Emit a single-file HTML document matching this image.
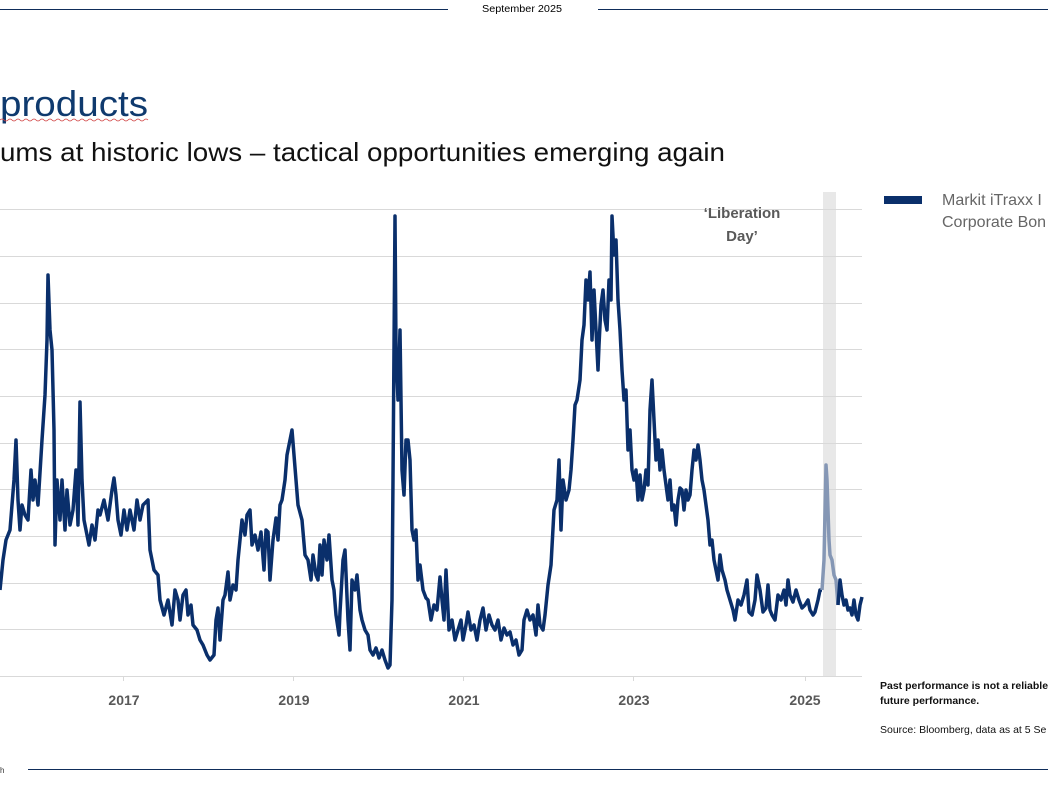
<!DOCTYPE html>
<html><head><meta charset="utf-8"><style>html,body{margin:0;padding:0;background:#fff;width:1048px;height:786px;overflow:hidden}</style></head>
<body>
<svg width="1048" height="786" xmlns="http://www.w3.org/2000/svg" font-family="Liberation Sans, sans-serif">
<line x1="0" y1="9.5" x2="448" y2="9.5" stroke="#0f2d5a" stroke-width="1"/>
<line x1="598" y1="9.5" x2="1048" y2="9.5" stroke="#0f2d5a" stroke-width="1"/>
<text x="522" y="12" font-size="10" text-anchor="middle" fill="#000" textLength="80" lengthAdjust="spacingAndGlyphs">September 2025</text>
<text x="0" y="116" font-size="36" fill="#0f3a6e" textLength="148" lengthAdjust="spacingAndGlyphs">products</text>
<path d="M0 120 q2 -2 4 0 t4 0 t4 0 t4 0 t4 0 t4 0 t4 0 t4 0 t4 0 t4 0 t4 0 t4 0 t4 0 t4 0 t4 0 t4 0 t4 0 t4 0 t4 0 t4 0 t4 0 t4 0 t4 0 t4 0 t4 0 t4 0 t4 0 t4 0 t4 0 t4 0 t4 0 t4 0 t4 0 t4 0 t4 0 t4 0 t4 0" fill="none" stroke="#d04040" stroke-width="0.8"/>
<text x="0" y="161" font-size="26" fill="#111" textLength="725" lengthAdjust="spacingAndGlyphs">ums at historic lows – tactical opportunities emerging again</text>
<rect x="823" y="192" width="13" height="484" fill="#e8e8e8"/>
<g stroke="#d9d9d9" stroke-width="1">
<line x1="0" y1="209.5" x2="862" y2="209.5"/><line x1="0" y1="256.5" x2="862" y2="256.5"/><line x1="0" y1="303.5" x2="862" y2="303.5"/><line x1="0" y1="349.5" x2="862" y2="349.5"/><line x1="0" y1="396.5" x2="862" y2="396.5"/><line x1="0" y1="443.5" x2="862" y2="443.5"/><line x1="0" y1="489.5" x2="862" y2="489.5"/><line x1="0" y1="536.5" x2="862" y2="536.5"/><line x1="0" y1="583.5" x2="862" y2="583.5"/><line x1="0" y1="629.5" x2="862" y2="629.5"/><line x1="0" y1="676.5" x2="862" y2="676.5"/>
<line x1="123.5" y1="676" x2="123.5" y2="681"/><line x1="293.5" y1="676" x2="293.5" y2="681"/><line x1="463.5" y1="676" x2="463.5" y2="681"/><line x1="633.5" y1="676" x2="633.5" y2="681"/><line x1="805.5" y1="676" x2="805.5" y2="681"/>
</g>
<g font-size="14" font-weight="bold" fill="#595959" text-anchor="middle">
<text x="124" y="705">2017</text><text x="294" y="705">2019</text><text x="464" y="705">2021</text><text x="634" y="705">2023</text><text x="805" y="705">2025</text>
<text x="742" y="218" font-size="15">‘Liberation</text><text x="742" y="241" font-size="15">Day’</text>
</g>
<polyline fill="none" stroke="#0a2f6b" stroke-width="3.5" stroke-linejoin="round" points="0,590 3,560 6,540 10,530 14,480 16,440 18,500 20,530 22,505 25,515 28,520 31,470 33,500 35,480 38,505 42,440 45,395 47,340 48,275 50,330 52,350 54,430 55,545 57,480 60,520 62,480 65,530 67,490 70,525 73,510 76,470 78,525 80,402 82,480 84,520 86,530 89,545 92,525 95,540 98,510 100,515 104,500 108,520 112,490 114,478 116,495 118,520 121,535 124,510 127,530 130,510 134,530 137,500 140,520 143,505 146,502 148,500 150,550 154,570 158,575 160,600 164,615 168,600 172,625 175,590 178,600 180,620 183,595 186,590 188,615 191,605 193,625 197,630 200,640 203,645 207,655 210,660 214,655 216,620 218,608 220,640 223,600 225,595 228,572 230,600 233,585 236,590 238,560 242,520 245,535 247,515 250,510 252,545 255,535 258,550 261,532 264,570 266,530 268,532 270,580 273,540 276,518 278,540 280,505 282,500 285,480 287,455 290,440 292,430 294,455 296,480 298,505 302,520 305,555 308,560 311,580 313,555 316,575 318,580 320,545 322,575 324,540 327,560 329,535 332,580 334,590 336,615 339,635 340,612 343,560 345,550 348,620 350,650 352,580 355,590 357,575 360,610 362,620 365,630 368,635 370,650 373,655 376,648 379,658 382,650 385,660 388,668 390,665 392,600 393,480 395,216 396,350 398,400 400,330 402,470 404,495 406,440 408,440 410,460 412,530 414,540 416,530 418,580 420,565 423,590 426,598 428,600 431,620 434,605 437,610 440,577 442,600 444,620 446,570 449,630 452,620 455,640 458,630 461,620 463,640 466,625 468,612 471,630 474,625 477,640 480,620 483,608 486,630 489,615 492,625 495,630 498,620 501,640 504,628 507,635 510,632 513,645 516,640 519,655 522,650 524,620 527,610 530,620 533,615 536,635 538,605 540,625 543,630 545,615 548,585 551,565 554,510 557,500 559,460 561,530 563,480 566,500 569,490 571,470 573,440 575,405 577,400 580,380 582,340 584,325 586,280 588,300 590,272 592,340 594,290 596,330 598,370 599,345 601,305 603,290 605,320 607,330 609,280 611,300 612,216 614,255 616,240 618,300 620,330 622,370 624,400 626,390 628,450 630,430 632,470 634,480 636,470 638,500 640,475 642,500 644,490 646,470 648,485 650,410 652,380 654,420 656,460 658,440 660,470 662,450 664,470 666,485 668,500 670,480 672,510 674,505 676,525 678,500 680,488 682,490 684,510 686,490 688,500 690,495 692,470 694,450 696,460 698,445 700,460 702,480 704,490 706,505 708,520 710,545 712,540 714,560 716,570 718,580 720,555 722,570 725,580 727,590 730,600 733,610 735,620 738,600 741,605 744,595 747,580 749,612 752,615 755,600 757,575 760,590 763,612 766,608 768,585 770,610 772,615 775,620 778,595 781,600 784,590 786,605 788,580 790,595 793,602 796,590 799,600 802,608 805,605 808,600 810,610 813,615 815,612 818,600 820,590 822,590"/>
<polyline fill="none" stroke="#8597b5" stroke-width="3.5" stroke-linejoin="round" points="822,590 824,560 826,465 827,480 828,510 829,540 830,555 832,560 834,575 836,580 838,605"/>
<polyline fill="none" stroke="#0a2f6b" stroke-width="3.5" stroke-linejoin="round" points="838,605 840,580 842,595 844,605 846,600 848,610 850,608 852,615 854,600 856,615 858,620 860,605 862,597"/>
<rect x="884" y="196" width="38" height="8" fill="#0a2f6b"/>
<text x="942" y="205" font-size="16" fill="#666">Markit iTraxx I</text>
<text x="942" y="227" font-size="16" fill="#666">Corporate Bon</text>
<text x="880" y="689" font-size="10.5" font-weight="bold" fill="#111">Past performance is not a reliable</text>
<text x="880" y="704" font-size="10.5" font-weight="bold" fill="#111">future performance.</text>
<text x="880" y="733" font-size="10.5" fill="#111">Source: Bloomberg, data as at 5 Se</text>
<text x="0" y="773" font-size="8" fill="#333">h</text>
<line x1="28" y1="769.5" x2="1048" y2="769.5" stroke="#0f2d5a" stroke-width="1"/>
</svg>
</body></html>
